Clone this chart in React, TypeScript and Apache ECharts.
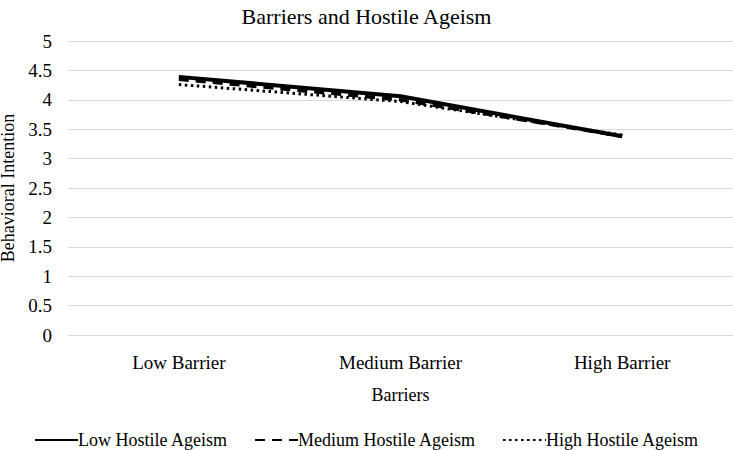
import React, { useEffect, useRef } from "react";
import * as echarts from "echarts";

const categories = ["Low Barrier", "Medium Barrier", "High Barrier"];
const lowHostile = [4.39, 4.06, 3.38];
const mediumHostile = [4.35, 4.0, 3.38];
const highHostile = [4.26, 3.97, 3.4];
const yTicks = [0, 0.5, 1, 1.5, 2, 2.5, 3, 3.5, 4, 4.5, 5];

const FONT = "'Liberation Serif', 'Times New Roman', serif";

export default function App() {
  const ref = useRef<HTMLDivElement>(null);
  useEffect(() => {
    if (!ref.current) return;
    const chart = echarts.init(ref.current, undefined, { renderer: "svg" });
    chart.setOption({
      animation: false,
      textStyle: { fontFamily: FONT, color: "#000" },
      title: {
        text: "Barriers and Hostile Ageism",
        left: "center",
        top: 0,
        textStyle: { fontFamily: FONT, fontSize: 22, fontWeight: "normal", color: "#000" },
      },
      legend: {
        top: 426,
        left: "center",
        itemWidth: 43,
        itemHeight: 12,
        itemGap: 26,
        itemStyle: { opacity: 0 },
        textStyle: { fontFamily: FONT, fontSize: 18, color: "#000", padding: [0, 0, 0, -5] },
        data: ["Low Hostile Ageism", "Medium Hostile Ageism", "High Hostile Ageism"],
      },
      grid: { left: 68, right: 0, top: 41, bottom: 115, containLabel: false, outerBoundsMode: "none" },
      xAxis: {
        type: "category",
        data: categories,
        boundaryGap: true,
        axisLine: { show: false },
        axisTick: { show: false },
        axisLabel: { fontFamily: FONT, fontSize: 19, color: "#000", margin: 18 },
        name: "Barriers",
        nameLocation: "middle",
        nameGap: 51,
        nameTextStyle: { fontFamily: FONT, fontSize: 18, color: "#000" },
      },
      yAxis: {
        type: "value",
        min: yTicks[0],
        max: yTicks[yTicks.length - 1],
        interval: 0.5,
        axisLine: { show: false },
        axisTick: { show: false },
        splitLine: { lineStyle: { color: "#d9d9d9", width: 1 } },
        axisLabel: { fontFamily: FONT, fontSize: 19, color: "#000", margin: 16 },
        name: "Behavioral Intention",
        nameLocation: "middle",
        nameGap: 42,
        nameTextStyle: { fontFamily: FONT, fontSize: 18, color: "#000" },
      },
      series: [
        {
          name: "Low Hostile Ageism",
          type: "line",
          data: lowHostile,
          symbol: "none",
          itemStyle: { color: "#000" },
          lineStyle: { color: "#000", width: 4, type: "solid" },
        },
        {
          name: "Medium Hostile Ageism",
          type: "line",
          data: mediumHostile,
          symbol: "none",
          itemStyle: { color: "#000" },
          lineStyle: { color: "#000", width: 3.5, type: [10, 7] },
        },
        {
          name: "High Hostile Ageism",
          type: "line",
          data: highHostile,
          symbol: "none",
          itemStyle: { color: "#000" },
          lineStyle: { color: "#000", width: 3, type: [2.5, 3.5] },
        },
      ],
    });
    return () => chart.dispose();
  }, []);
  return <div ref={ref} style={{ width: 733, height: 450, position: "absolute", left: 0, top: 0 }} />;
}
